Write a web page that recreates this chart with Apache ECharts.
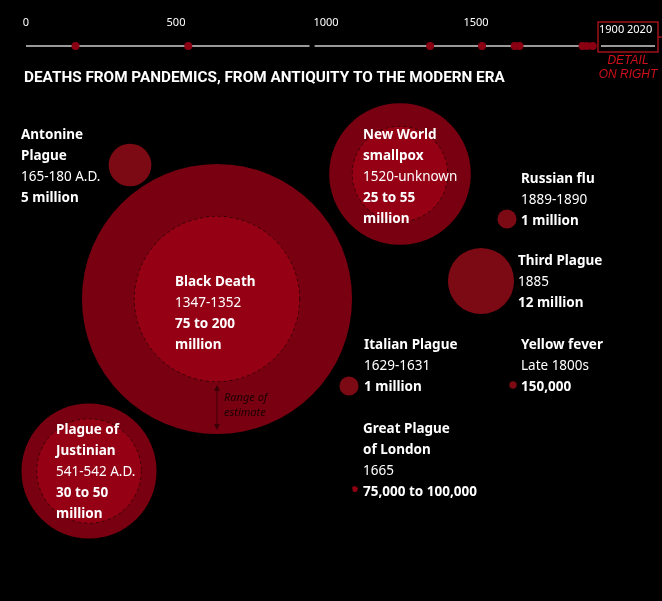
<!DOCTYPE html>
<html>
<head>
<meta charset="utf-8">
<script src="https://cdn.jsdelivr.net/npm/echarts@6/dist/echarts.min.js"></script>
<style>html,body{margin:0;background:#000}#main{width:662px;height:601px}</style>
</head>
<body>
<div id="main"></div>
<script>
// pandemic names, deaths (millions) low / high, year on timeline
const names = ['Antonine Plague', 'Plague of Justinian', 'Black Death', 'New World smallpox', 'Italian Plague', 'Great Plague of London', 'Third Plague', 'Yellow fever', 'Russian flu']
const deathsLow = [5, 30, 75, 25, 1, 0.075, 12, 0.15, 1]
const deathsHigh = [5, 50, 200, 55, 1, 0.1, 12, 0.15, 1]
const years = [165, 541, 1347, 1520, 1629, 1645, 1855, 1870, 1889]
const tickYears = [0, 500, 1000, 1500]
// bubble centres on the canvas
const centers = [[130, 165], [89, 471], [217, 299], [400, 174], [349, 386], [355, 489], [481, 281], [513, 385], [507, 219]]

const K = 9.55 // px radius per sqrt(million)
const size = m => 2 * K * Math.sqrt(m)

let single = [], outer = [], inner = []
for (let i = 0; i < names.length; i++) {
  if (deathsLow[i] == deathsHigh[i]) {
    single.push([centers[i][0], centers[i][1], deathsHigh[i]])
  } else {
    outer.push([centers[i][0], centers[i][1], deathsHigh[i]])
    inner.push([centers[i][0], centers[i][1], deathsLow[i]])
  }
}

const labels = [
  { x: 21, y: 128, t: ['{b|Antonine}', '{b|Plague}', '{n|165-180 A.D.}', '{b|5 million}'] },
  { x: 363, y: 128, t: ['{b|New World}', '{b|smallpox}', '{n|1520-unknown}', '{b|25 to 55}', '{b|million}'] },
  { x: 521, y: 172, t: ['{b|Russian flu}', '{n|1889-1890}', '{b|1 million}'] },
  { x: 175, y: 275, t: ['{b|Black Death}', '{n|1347-1352}', '{b|75 to 200}', '{b|million}'] },
  { x: 518, y: 254, t: ['{b|Third Plague}', '{n|1885}', '{b|12 million}'] },
  { x: 364, y: 338, t: ['{b|Italian Plague}', '{n|1629-1631}', '{b|1 million}'] },
  { x: 521, y: 338, t: ['{b|Yellow fever}', '{n|Late 1800s}', '{b|150,000}'] },
  { x: 56, y: 423, t: ['{b|Plague of}', '{b|Justinian}', '{n|541-542 A.D.}', '{b|30 to 50}', '{b|million}'] },
  { x: 363, y: 422, t: ['{b|Great Plague}', '{b|of London}', '{n|1665}', '{b|75,000 to 100,000}'] }
]

const font = '"Noto Sans", sans-serif'
let graphics = labels.map(l => ({
  type: 'text', left: l.x, top: l.y, z: 10,
  style: {
    text: l.t.join('\n'),
    rich: {
      b: { fontFamily: font, fontWeight: 'bold', fontSize: 13.5, lineHeight: 21, fill: '#fff' },
      n: { fontFamily: font, fontSize: 13.5, lineHeight: 21, fill: '#fff' }
    }
  }
}))
graphics.push(
  { type: 'text', left: 24, top: 71, style: { text: 'DEATHS FROM PANDEMICS, FROM ANTIQUITY TO THE MODERN ERA', fontFamily: 'Roboto, sans-serif', fontWeight: 'bold', fontSize: 15.3, fill: '#fff' } },
  { type: 'rect', shape: { x: 598, y: 22, width: 60, height: 30 }, style: { fill: 'none', stroke: '#a0101a', lineWidth: 1.5 } },
  { type: 'line', shape: { x1: 658, y1: 37, x2: 662, y2: 37 }, style: { stroke: '#a0101a', lineWidth: 1.5 } },
  { type: 'line', shape: { x1: 601, y1: 46, x2: 655, y2: 46 }, style: { stroke: '#999', lineWidth: 2 } },
  { type: 'text', left: 599, top: 24, style: { text: '1900 2020', fontFamily: font, fontSize: 11, fill: '#fff' } },
  { type: 'text', x: 628, y: 54, style: { text: 'DETAIL\nON RIGHT', align: 'center', fontFamily: '"Liberation Sans Narrow", sans-serif', fontStyle: 'italic', fontSize: 12, lineHeight: 14, fill: '#d0101a' } },
  { type: 'line', z: 10, shape: { x1: 217, y1: 386, x2: 217, y2: 428 }, style: { stroke: '#3a0006', lineWidth: 1 } },
  { type: 'polygon', z: 10, shape: { points: [[214, 391], [220, 391], [217, 385]] }, style: { fill: '#3a0006' } },
  { type: 'polygon', z: 10, shape: { points: [[214, 424], [220, 424], [217, 430]] }, style: { fill: '#3a0006' } },
  { type: 'text', z: 10, left: 224, top: 390, style: { text: 'Range of\nestimate', fontFamily: font, fontStyle: 'italic', fontSize: 11, lineHeight: 15, fill: '#1a0003' } }
)

let myChart = echarts.init(document.getElementById('main'))
let option = {
  backgroundColor: '#000',
  animation: false,
  grid: [
    { left: 0, top: 0, width: 662, height: 601 },
    { left: 26, top: 30, width: 570, height: 30 }
  ],
  xAxis: [
    { gridIndex: 0, type: 'value', min: 0, max: 662, show: false },
    {
      gridIndex: 1, type: 'value', min: 0, max: 1900, position: 'top',
      axisLine: { show: false }, axisTick: { show: false }, splitLine: { show: false },
      axisLabel: { color: '#fff', fontFamily: font, fontSize: 11, margin: 2, customValues: tickYears, formatter: v => String(v) }
    }
  ],
  yAxis: [
    { gridIndex: 0, type: 'value', min: 0, max: 601, inverse: true, show: false },
    { gridIndex: 1, type: 'value', min: 0, max: 30, inverse: true, show: false }
  ],
  graphic: graphics,
  series: [
    {
      type: 'scatter', data: outer, symbolSize: d => size(d[2]),
      itemStyle: { color: '#780010', opacity: 1 }, silent: true
    },
    {
      type: 'scatter', data: inner, symbolSize: d => size(d[2]), z: 3,
      itemStyle: { color: '#950014', opacity: 1, borderColor: '#3a0006', borderType: [3, 3], borderWidth: 1 }, silent: true
    },
    {
      type: 'scatter', data: single, symbolSize: d => size(d[2]),
      itemStyle: { color: '#7c0a14', opacity: 1 }, silent: true
    },
    {
      type: 'line', xAxisIndex: 1, yAxisIndex: 1, data: [[0, 16], [945, 16]], symbol: 'none',
      lineStyle: { color: '#999', width: 2 }, silent: true
    },
    {
      type: 'line', xAxisIndex: 1, yAxisIndex: 1, data: [[962, 16], [1900, 16]], symbol: 'none',
      lineStyle: { color: '#999', width: 2 }, silent: true
    },
    {
      type: 'scatter', xAxisIndex: 1, yAxisIndex: 1, z: 5, data: years.map(y => [y, 16]), symbolSize: 8,
      itemStyle: { color: '#8a0012', opacity: 1 }, silent: true
    }
  ]
}
myChart.setOption(option)
</script>
</body>
</html>
